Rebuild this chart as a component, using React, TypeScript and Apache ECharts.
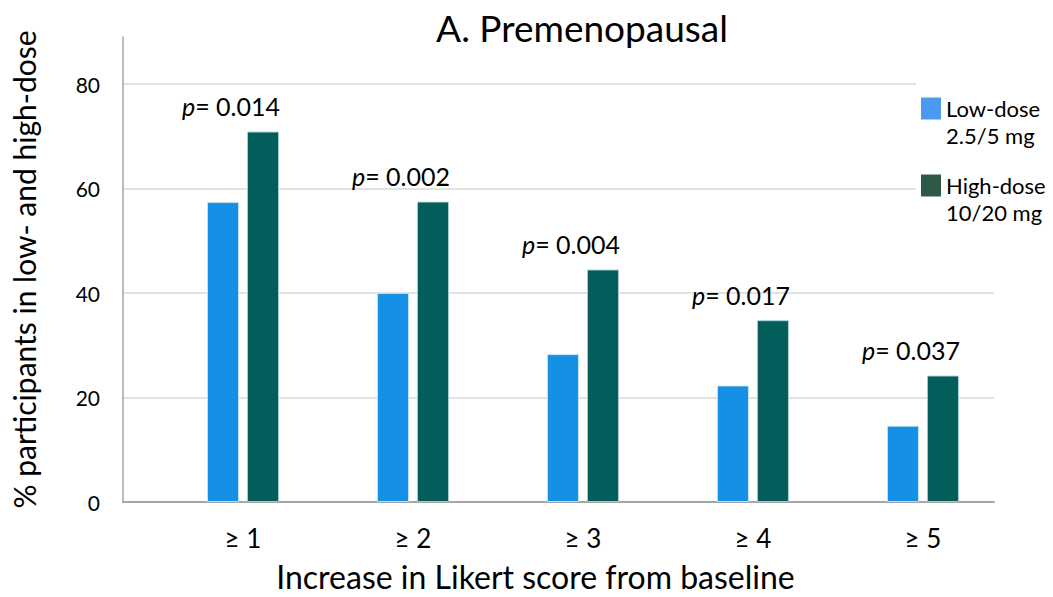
import React, { useEffect, useRef } from "react";
import * as echarts from "echarts";

const categories = ["≥ 1", "≥ 2", "≥ 3", "≥ 4", "≥ 5"];
const categoryPositions = [1, 2, 3, 4, 5];
const lowDose = [57.4, 40, 28.3, 22.3, 14.6];
const highDose = [70.9, 57.5, 44.5, 34.8, 24.2];
const pValues = ["0.014", "0.002", "0.004", "0.017", "0.037"];
const yTicks = [0, 20, 40, 60, 80];
const seriesNames = ["Low-dose\n2.5/5 mg", "High-dose\n10/20 mg"];

const FONT = "Lato, 'Open Sans', sans-serif";

export default function App() {
  const ref = useRef<HTMLDivElement>(null);
  useEffect(() => {
    if (!ref.current) return;
    const chart = echarts.init(ref.current, undefined, { renderer: "svg" });
    const barBorder = { borderColor: "rgba(200,228,240,0.9)", borderWidth: 1 };
    chart.setOption({
      animation: false,
      backgroundColor: "#ffffff",
      textStyle: { fontFamily: FONT },
      title: {
        text: "A. Premenopausal",
        left: 577,
        top: 4,
        textAlign: "center",
        textStyle: { fontFamily: FONT, fontSize: 37, fontWeight: "normal", color: "#000" },
      },
      legend: {
        orient: "vertical",
        left: 916,
        top: 63,
        itemWidth: 20,
        itemHeight: 22,
        itemGap: -4,
        icon: "rect",
        backgroundColor: "#ffffff",
        data: seriesNames,
        formatter: (name: string) => "\n" + name,
        textStyle: {
          fontFamily: FONT,
          fontSize: 22,
          lineHeight: 27,
          color: "#000",
        },
      },
      grid: { left: 123, right: 59, top: 37, bottom: 94 },
      xAxis: {
        type: "value",
        min: 0.294,
        max: 5.418,
        name: "Increase in Likert score from baseline",
        nameLocation: "middle",
        nameGap: 58,
        nameTextStyle: { fontFamily: FONT, fontSize: 32, color: "#000", padding: [0, 46, 0, 0] },
        axisLine: { show: true, onZero: false, lineStyle: { color: "#a6a6a6", width: 2 } },
        axisTick: { show: false },
        splitLine: { show: false },
        axisLabel: {
          customValues: categoryPositions,
          formatter: (v: number) => categories[categoryPositions.indexOf(Math.round(v))] ?? "",
          fontFamily: FONT,
          fontSize: 26,
          color: "#000",
          margin: 23,
        },
      },
      yAxis: {
        type: "value",
        min: 0,
        max: 89,
        interval: 20,
        name: "% participants in low- and high-dose",
        nameLocation: "middle",
        nameGap: 84,
        nameTextStyle: { fontFamily: FONT, fontSize: 30, color: "#000" },
        axisLine: { show: true, lineStyle: { color: "#a6a6a6", width: 1.5 } },
        axisTick: { show: false },
        axisLabel: {
          showMaxLabel: false,
          fontFamily: FONT,
          fontSize: 21,
          color: "#000",
          margin: 23,
          formatter: (v: number) => (yTicks.includes(v) ? String(v) : ""),
        },
        splitLine: { show: true, showMaxLine: false, lineStyle: { color: "#d9d9d9", width: 1.5 } },
      },
      series: [
        {
          name: seriesNames[0],
          type: "bar",
          barWidth: 32,
          barGap: "25%",
          itemStyle: { color: "#4A9BF0" },
          data: lowDose.map((v, i) => ({
            value: [categoryPositions[i], v],
            itemStyle: { color: "#1590E5", ...barBorder },
          })),
        },
        {
          name: seriesNames[1],
          type: "bar",
          barWidth: 32,
          barGap: "25%",
          itemStyle: { color: "#2E5946" },
          data: highDose.map((v, i) => ({
            value: [categoryPositions[i], v],
            itemStyle: { color: "#035D5B", borderColor: "rgba(170,210,215,0.9)", borderWidth: 1 },
          })),
          label: {
            show: true,
            position: "top",
            offset: [-32, -8],
            formatter: (p: any) => `{i|p}{n|= ${pValues[p.dataIndex]}}`,
            rich: {
              i: { fontFamily: FONT, fontSize: 25, fontStyle: "italic", color: "#000" },
              n: { fontFamily: FONT, fontSize: 25, color: "#000" },
            },
          },
        },
      ],
    });
    return () => chart.dispose();
  }, []);
  return (
    <div
      ref={ref}
      style={{ position: "fixed", left: 0, top: 0, width: 1053, height: 597 }}
    />
  );
}
